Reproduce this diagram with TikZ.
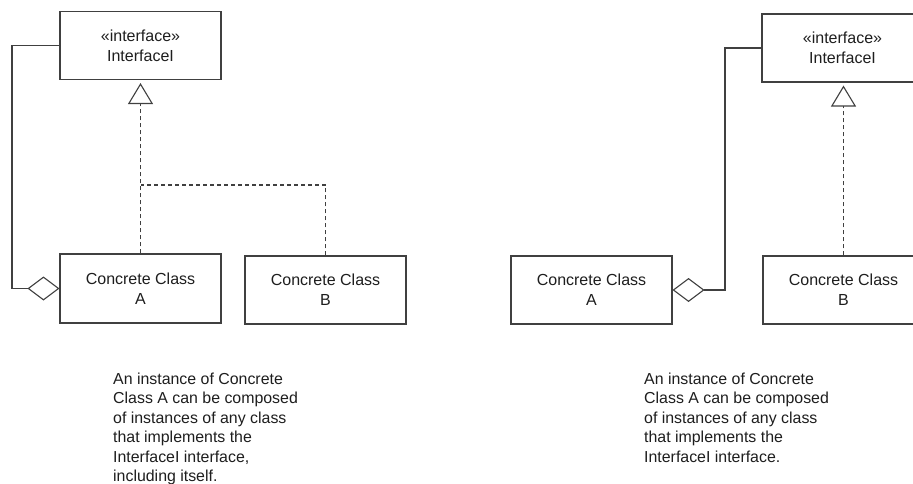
\documentclass[tikz,border=0pt]{standalone}
\usepackage{fontspec}
\setmainfont{Liberation Sans}
\usetikzlibrary{arrows.meta}
\definecolor{linec}{HTML}{404040}
\definecolor{textc}{HTML}{1e1e1e}
\begin{document}
\begin{tikzpicture}[x=1pt,y=-1pt,
  umlbox/.style={draw=linec,line width=1.1pt,minimum width=161pt,minimum height=68pt,inner sep=0pt,
    align=center,text=textc,font=\fontsize{16}{20}\selectfont},
  note/.style={align=left,inner sep=0pt,anchor=north west,text=textc,font=\fontsize{15.9}{19.5}\selectfont},
  conn/.style={draw=linec,line width=1.1pt},
  dashconn/.style={conn,dash pattern=on 4pt off 3pt},
  agg/.style={conn,{Diamond[open,length=32pt,width=24pt,line width=1.1pt]}-},
  real/.style={dashconn,-{Triangle[open,length=21pt,width=25pt,line width=1.1pt]},shorten >=3pt}]
\useasboundingbox (0,0) rectangle (913,483);
\clip (0,0) rectangle (913,483);
\fill[white] (0,0) rectangle (913,483);
% left diagram
\node[umlbox] (I1) at (140.5,45.5) {«interface»\\InterfaceI};
\node[umlbox,minimum height=69pt] (A1) at (140.5,288.5) {Concrete Class\\A};
\node[umlbox] (B1) at (325.5,290) {Concrete Class\\B};
\coordinate (L1) at (12,0);
\coordinate (J1) at (140.5,185);
\draw[agg] (A1.west) -- (L1 |- A1.west) |- (I1.west);
\draw[real] (A1.north) -- (I1.south);
\draw[dashconn] (B1.north) |- (J1);
\node[note] (T1) at (113,372.5) {An instance of Concrete\\Class A can be composed\\of instances of any class\\that implements the\\InterfaceI interface,\\including itself.};
% right diagram
\node[umlbox] (I2) at (842.5,48) {«interface»\\InterfaceI};
\node[umlbox] (A2) at (591.5,290) {Concrete Class\\A};
\node[umlbox] (B2) at (843.5,290) {Concrete Class\\B};
\coordinate (L2) at (725,0);
\draw[agg] (A2.east) -- (L2 |- A2.east) |- (I2.west);
\draw[real] (B2.north) -- (B2.north |- I2.south);
\node[note] (T2) at (644,372.5) {An instance of Concrete\\Class A can be composed\\of instances of any class\\that implements the\\InterfaceI interface.};
\end{tikzpicture}
\end{document}
